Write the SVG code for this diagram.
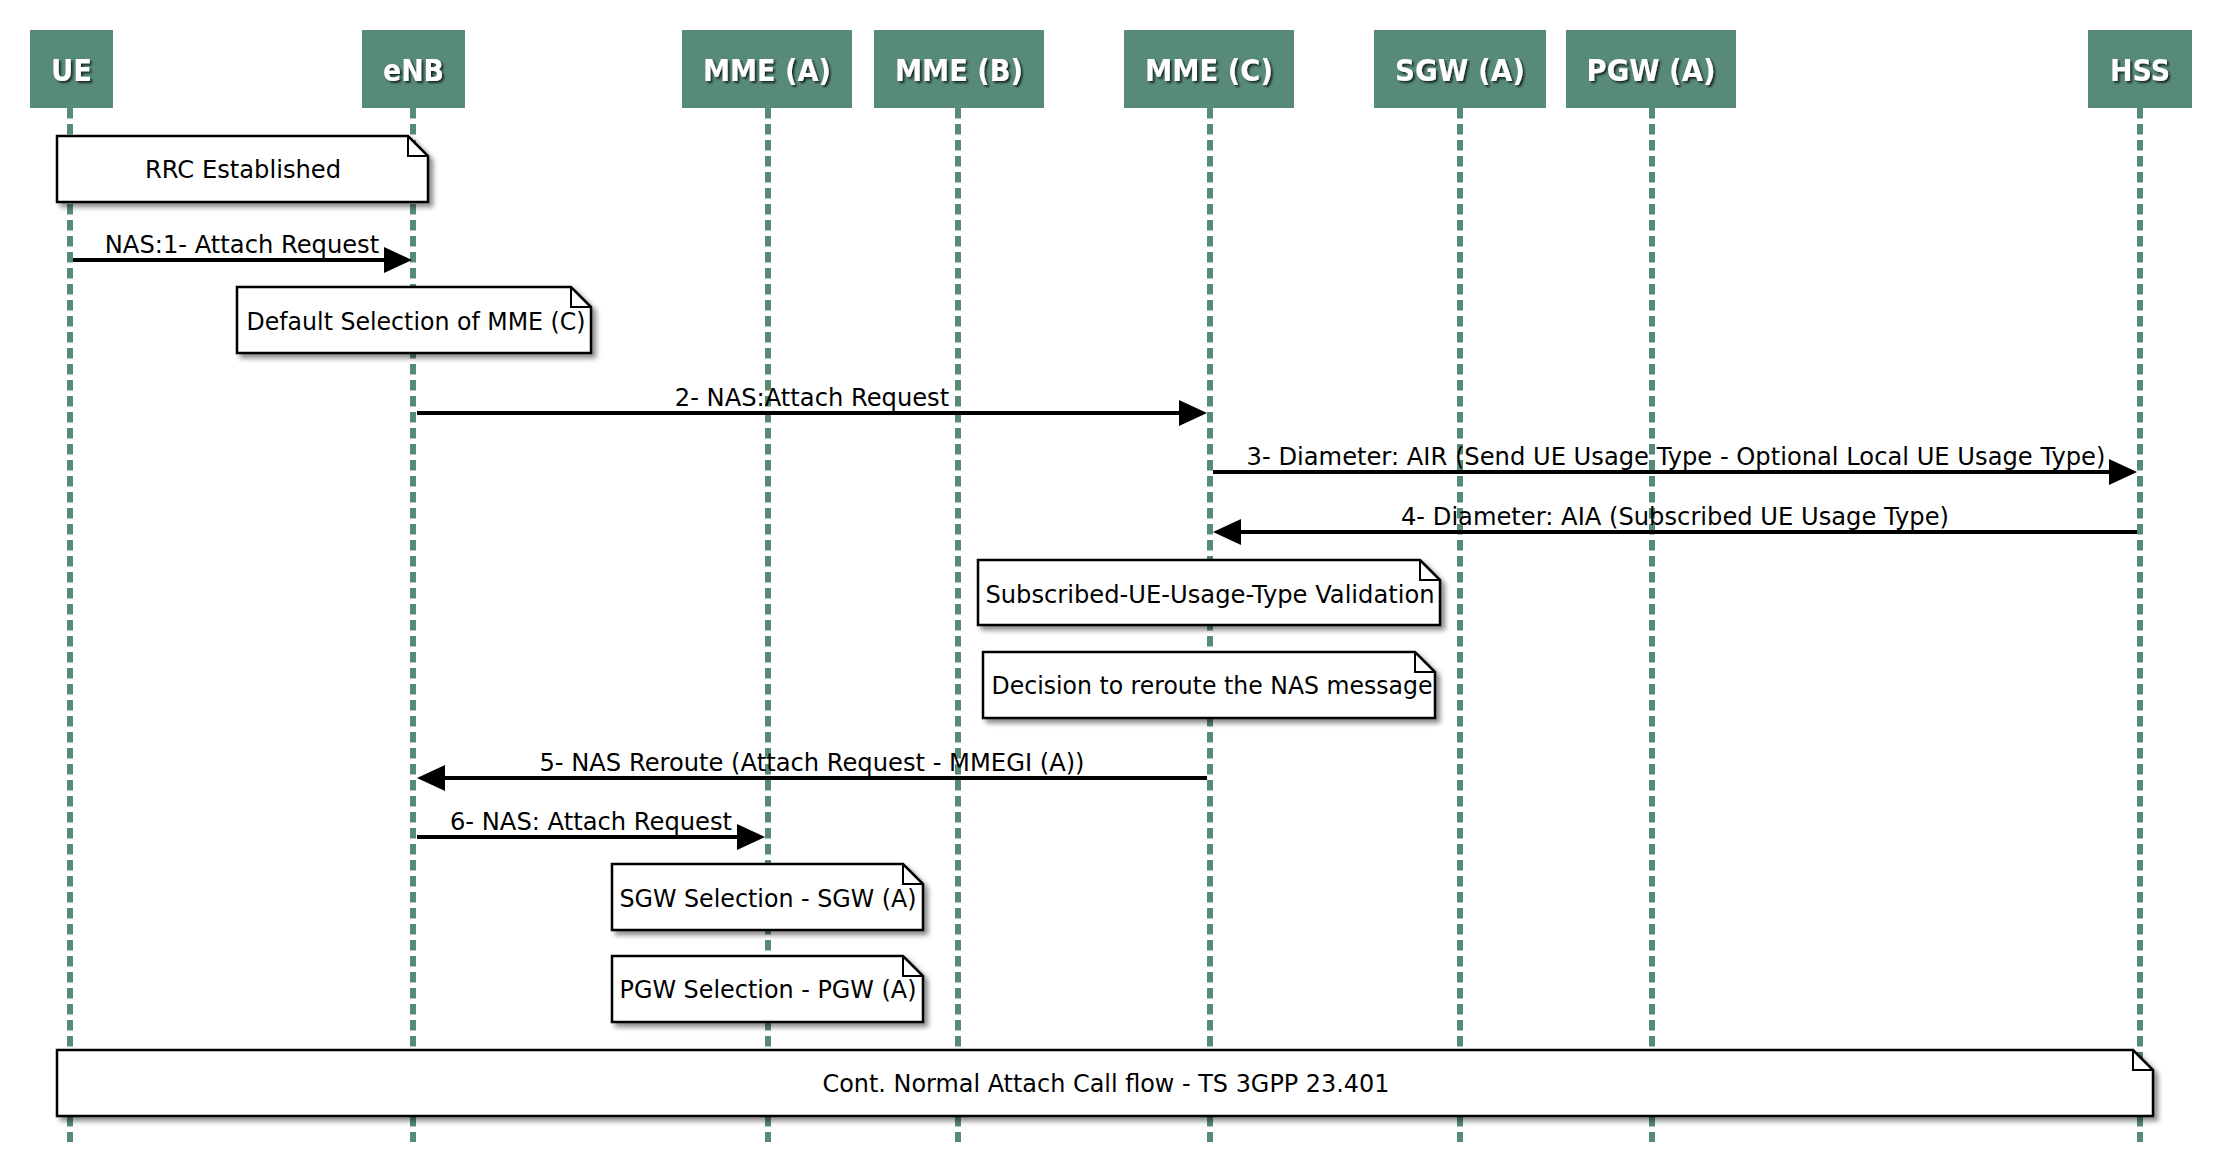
<svg xmlns="http://www.w3.org/2000/svg" width="2224" height="1162" viewBox="0 0 2224 1162">
<style>
.hdr{fill:#588B77}
.htxt{font-family:"DejaVu Sans","Liberation Sans",sans-serif;font-weight:bold;font-size:31px;fill:#ffffff;text-anchor:middle}
.life{stroke:#588B77;stroke-width:6;stroke-dasharray:10.5 5.5;fill:none}
.note{fill:#ffffff;stroke:#000000;stroke-width:2.5;stroke-linejoin:miter}
.fold{fill:none;stroke:#000000;stroke-width:2}
.ntxt{font-family:"DejaVu Sans","Liberation Sans",sans-serif;font-size:24.2px;fill:#000000;text-anchor:middle}
.msg{stroke:#000000;stroke-width:4;fill:none}
.mtxt{font-family:"DejaVu Sans","Liberation Sans",sans-serif;font-size:24.2px;fill:#000000;text-anchor:middle}
</style>
<defs>
<filter id="tshadow" x="-20%" y="-20%" width="140%" height="160%">
<feDropShadow dx="2" dy="2" stdDeviation="1.2" flood-color="#000000" flood-opacity="0.7"/>
</filter>
<filter id="nshadow" x="-5%" y="-20%" width="110%" height="150%">
<feDropShadow dx="4" dy="4" stdDeviation="2.5" flood-color="#000000" flood-opacity="0.45"/>
</filter>
<marker id="ah" markerUnits="userSpaceOnUse" markerWidth="30" markerHeight="28" refX="18" refY="13" orient="auto">
<path d="M0,0 L28,13 L0,26 Z" fill="#000000"/>
</marker>
</defs>

<g id="lifelines">
<line class="life" x1="70" y1="108" x2="70" y2="1142"/>
<line class="life" x1="413" y1="108" x2="413" y2="1142"/>
<line class="life" x1="768" y1="108" x2="768" y2="1142"/>
<line class="life" x1="958" y1="108" x2="958" y2="1142"/>
<line class="life" x1="1210" y1="108" x2="1210" y2="1142"/>
<line class="life" x1="1460" y1="108" x2="1460" y2="1142"/>
<line class="life" x1="1652" y1="108" x2="1652" y2="1142"/>
<line class="life" x1="2140" y1="108" x2="2140" y2="1142"/>
</g>

<g id="UE"><rect class="hdr" x="30" y="30" width="83" height="78"/><text class="htxt" x="71.5" y="81" textLength="41" lengthAdjust="spacingAndGlyphs" filter="url(#tshadow)">UE</text></g>
<g id="eNB"><rect class="hdr" x="362" y="30" width="103" height="78"/><text class="htxt" x="413.5" y="81" textLength="61" lengthAdjust="spacingAndGlyphs" filter="url(#tshadow)">eNB</text></g>
<g id="MME_A"><rect class="hdr" x="682" y="30" width="170" height="78"/><text class="htxt" x="767" y="81" textLength="128" lengthAdjust="spacingAndGlyphs" filter="url(#tshadow)">MME (A)</text></g>
<g id="MME_B"><rect class="hdr" x="874" y="30" width="170" height="78"/><text class="htxt" x="959" y="81" textLength="128" lengthAdjust="spacingAndGlyphs" filter="url(#tshadow)">MME (B)</text></g>
<g id="MME_C"><rect class="hdr" x="1124" y="30" width="170" height="78"/><text class="htxt" x="1209" y="81" textLength="128" lengthAdjust="spacingAndGlyphs" filter="url(#tshadow)">MME (C)</text></g>
<g id="SGW_A"><rect class="hdr" x="1374" y="30" width="172" height="78"/><text class="htxt" x="1460" y="81" textLength="130" lengthAdjust="spacingAndGlyphs" filter="url(#tshadow)">SGW (A)</text></g>
<g id="PGW_A"><rect class="hdr" x="1566" y="30" width="170" height="78"/><text class="htxt" x="1651" y="81" textLength="129" lengthAdjust="spacingAndGlyphs" filter="url(#tshadow)">PGW (A)</text></g>
<g id="HSS"><rect class="hdr" x="2088" y="30" width="104" height="78"/><text class="htxt" x="2140" y="81" textLength="60" lengthAdjust="spacingAndGlyphs" filter="url(#tshadow)">HSS</text></g>

<g id="note_rrc">
<path class="note" filter="url(#nshadow)" d="M57,136 H408 L428,156 V202 H57 Z"/>
<path class="fold" d="M408,136 V156 H428"/>
<text class="ntxt" x="243" y="178">RRC Established</text>
</g>
<g id="note_default">
<path class="note" filter="url(#nshadow)" d="M237,287 H571 L591,307 V353 H237 Z"/>
<path class="fold" d="M571,287 V307 H591"/>
<text class="ntxt" x="416" y="330" textLength="339" lengthAdjust="spacingAndGlyphs">Default Selection of MME (C)</text>
</g>
<g id="note_validation">
<path class="note" filter="url(#nshadow)" d="M978,560 H1420 L1440,580 V625 H978 Z"/>
<path class="fold" d="M1420,560 V580 H1440"/>
<text class="ntxt" x="1210" y="603">Subscribed-UE-Usage-Type Validation</text>
</g>
<g id="note_decision">
<path class="note" filter="url(#nshadow)" d="M983,652 H1415 L1435,672 V718 H983 Z"/>
<path class="fold" d="M1415,652 V672 H1435"/>
<text class="ntxt" x="1212" y="694" textLength="441" lengthAdjust="spacingAndGlyphs">Decision to reroute the NAS message</text>
</g>
<g id="note_sgw">
<path class="note" filter="url(#nshadow)" d="M612,864 H903 L923,884 V930 H612 Z"/>
<path class="fold" d="M903,864 V884 H923"/>
<text class="ntxt" x="768" y="907" textLength="297" lengthAdjust="spacingAndGlyphs">SGW Selection - SGW (A)</text>
</g>
<g id="note_pgw">
<path class="note" filter="url(#nshadow)" d="M612,956 H903 L923,976 V1022 H612 Z"/>
<path class="fold" d="M903,956 V976 H923"/>
<text class="ntxt" x="768" y="998" textLength="297" lengthAdjust="spacingAndGlyphs">PGW Selection - PGW (A)</text>
</g>
<g id="note_cont">
<path class="note" filter="url(#nshadow)" d="M57,1050 H2133 L2153,1070 V1116 H57 Z"/>
<path class="fold" d="M2133,1050 V1070 H2153"/>
<text class="ntxt" x="1106" y="1092" textLength="567" lengthAdjust="spacingAndGlyphs">Cont. Normal Attach Call flow - TS 3GPP 23.401</text>
</g>

<g id="connectors">
<line class="msg" x1="73" y1="260" x2="402" y2="260" marker-end="url(#ah)"/>
<text class="mtxt" x="242" y="253">NAS:1- Attach Request</text>
<line class="msg" x1="417" y1="413" x2="1197" y2="413" marker-end="url(#ah)"/>
<text class="mtxt" x="812" y="406">2- NAS:Attach Request</text>
<line class="msg" x1="1213" y1="472" x2="2127" y2="472" marker-end="url(#ah)"/>
<text class="mtxt" x="1676" y="465">3- Diameter: AIR (Send UE Usage Type - Optional Local UE Usage Type)</text>
<line class="msg" x1="2137" y1="532" x2="1223" y2="532" marker-end="url(#ah)"/>
<text class="mtxt" x="1675" y="525">4- Diameter: AIA (Subscribed UE Usage Type)</text>
<line class="msg" x1="1207" y1="778" x2="427" y2="778" marker-end="url(#ah)"/>
<text class="mtxt" x="812" y="771">5- NAS Reroute (Attach Request - MMEGI (A))</text>
<line class="msg" x1="417" y1="837" x2="755" y2="837" marker-end="url(#ah)"/>
<text class="mtxt" x="591" y="830">6- NAS: Attach Request</text>
</g>
</svg>
